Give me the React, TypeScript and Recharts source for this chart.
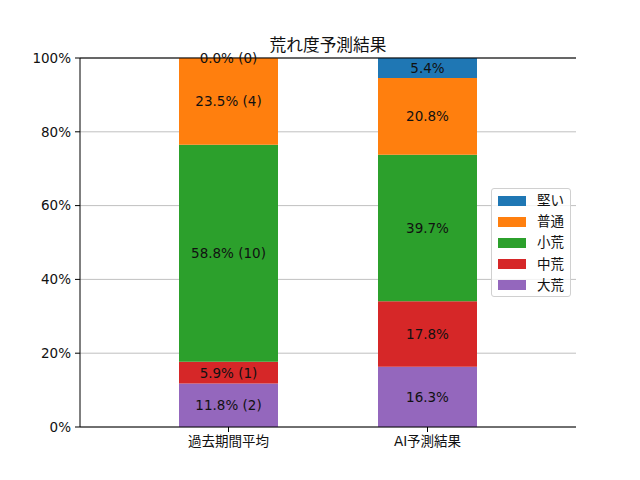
import React from 'react';
import { BarChart, Bar, XAxis, YAxis, CartesianGrid, LabelList, ReferenceLine } from 'recharts';

const categories = ['過去期間平均', 'AI予測結果'];
const levels = ['大荒', '中荒', '小荒', '普通', '堅い'];
const daiare = [11.8, 16.3];
const chuare = [5.9, 17.8];
const shoare = [58.8, 39.7];
const futsu = [23.5, 20.8];
const katai = [0.0, 5.4];
const pastCounts = [2, 1, 10, 4, 0];
const yTicks = [0, 20, 40, 60, 80, 100];

const colors = ['#9467bd', '#d62728', '#2ca02c', '#ff7f0e', '#1f77b4'];
const seriesValues = [daiare, chuare, shoare, futsu, katai];

const fmt = (v: number, i: number, j: number) =>
  i === 0 ? `${v.toFixed(1)}% (${pastCounts[j]})` : `${v.toFixed(1)}%`;

const data = categories.map((name, i) => {
  const row: Record<string, string | number> = { name };
  levels.forEach((lv, j) => {
    row[lv] = seriesValues[j][i];
    row[`${lv}_label`] = fmt(seriesValues[j][i], i, j);
  });
  // label for zero-height segment at the top of the stack
  row.topZeroLabel = katai[i] === 0 ? fmt(katai[i], i, 4) : '';
  return row;
});

const FONT = '"DejaVu Sans", "Noto Sans CJK JP", sans-serif';

const CenterLabel = (props: any) => {
  const { x, y, width, height, value } = props;
  if (!value) return null;
  return (
    <text
      x={Number(x) + Number(width) / 2}
      y={Number(y) + Number(height) / 2}
      textAnchor="middle"
      dominantBaseline="central"
      fontSize={13.5}
      fill="#111"
      fontFamily={FONT}
    >
      {value}
    </text>
  );
};

const TopEdgeLabel = (props: any) => {
  const { x, y, width, value } = props;
  if (!value) return null;
  return (
    <text
      x={Number(x) + Number(width) / 2}
      y={Number(y)}
      textAnchor="middle"
      dominantBaseline="central"
      fontSize={13.5}
      fill="#111"
      fontFamily={FONT}
    >
      {value}
    </text>
  );
};

const LegendBox = () => (
  <div
    style={{
      position: 'absolute',
      left: 491,
      top: 188,
      border: '1px solid #d0d0d0',
      borderRadius: 3,
      background: 'rgba(255,255,255,0.8)',
      padding: '1px 6px 0px 6px',
      fontFamily: FONT,
      fontSize: 13.5,
      lineHeight: '21.2px',
      color: '#111',
    }}
  >
    {levels
      .map((lv, j) => ({ lv, c: colors[j] }))
      .reverse()
      .map(({ lv, c }) => (
        <div key={lv} style={{ display: 'flex', alignItems: 'center' }}>
          <span style={{ display: 'inline-block', width: 28, height: 10, background: c, marginRight: 11 }} />
          <span>{lv}</span>
        </div>
      ))}
  </div>
);

export default function App() {
  return (
    <div style={{ position: 'absolute', left: 0, top: 0, width: 640, height: 480, background: '#fff' }}>
      <div
        style={{
          position: 'absolute',
          left: 80,
          width: 496,
          top: 32,
          textAlign: 'center',
          fontFamily: FONT,
          fontSize: 16.7,
          color: '#111',
        }}
      >
        荒れ度予測結果
      </div>
      <BarChart width={640} height={480} data={data} margin={{ top: 58, right: 64, bottom: 0, left: 0 }}>
        <CartesianGrid vertical={false} stroke="#b0b0b0" strokeWidth={0.8} />
        <XAxis
          dataKey="name"
          padding={{ left: 49, right: 49 }}
          height={53}
          tickSize={5}
          tickMargin={4}
          stroke="#000"
          tick={{ fill: '#111', fontSize: 13.5, fontFamily: FONT }}
        />
        <YAxis
          domain={[0, 100]}
          ticks={yTicks}
          tickFormatter={(v) => `${v}%`}
          width={80}
          tickSize={5}
          tickMargin={4}
          stroke="#000"
          interval={0}
          tick={{ fill: '#111', fontSize: 13.5, fontFamily: FONT }}
        />
        <YAxis yAxisId="right" orientation="right" width={0} tick={false} tickLine={false} stroke="#000" domain={[0, 100]} />
        <ReferenceLine y={100} stroke="#000" strokeWidth={1} />
        {levels.map((lv, j) => (
          <Bar key={lv} dataKey={lv} stackId="a" fill={colors[j]} barSize={99} isAnimationActive={false}>
            <LabelList dataKey={`${lv}_label`} content={CenterLabel} />
            {lv === '普通' && <LabelList dataKey="topZeroLabel" content={TopEdgeLabel} />}
          </Bar>
        ))}
      </BarChart>
      <LegendBox />
    </div>
  );
}
